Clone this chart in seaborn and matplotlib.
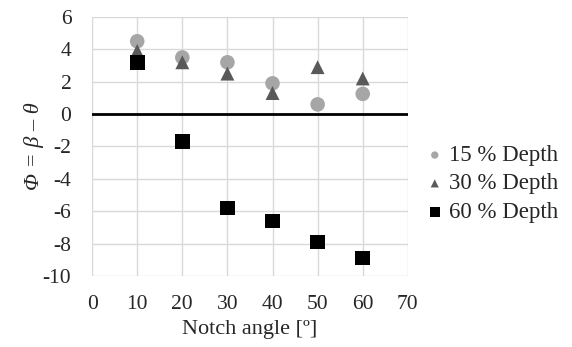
import pandas as pd
import seaborn as sns
import matplotlib.pyplot as plt

angles = [10, 20, 30, 40, 50, 60]
depth15 = [4.5, 3.5, 3.2, 1.9, 0.6, 1.25]
depth30 = [3.9, 3.2, 2.5, 1.3, 2.9, 2.2]
depth60 = [3.2, -1.7, -5.8, -6.6, -7.9, -8.9]
series = ["15 % Depth", "30 % Depth", "60 % Depth"]

df = pd.DataFrame({
    "angle": angles * 3,
    "phi": depth15 + depth30 + depth60,
    "series": [s for s in series for _ in angles],
})

sns.set_style("white")
plt.rcParams["font.family"] = ["Liberation Serif", "DejaVu Serif"]
plt.rcParams["axes.unicode_minus"] = False

fig = plt.figure(figsize=(5.72, 3.47), dpi=100)
ax = fig.add_axes([0.161, 0.205, 0.552, 0.746])

styles = {
    "15 % Depth": dict(marker="o", color="#a6a6a6", s=110),
    "30 % Depth": dict(marker="^", color="#595959", s=100),
    "60 % Depth": dict(marker="s", color="#000000", s=112),
}
for name in series:
    st = styles[name]
    sns.scatterplot(data=df[df["series"] == name], x="angle", y="phi", ax=ax,
                    marker=st["marker"], color=st["color"], s=st["s"],
                    edgecolor="none", linewidth=0, label=name, zorder=3)

ax.axhline(0, color="black", lw=2, zorder=2)
ax.set_xlim(0, 70)
ax.set_ylim(-10, 6)
ax.set_xticks(range(0, 71, 10))
ax.set_yticks(range(-10, 7, 2))
ax.grid(True, color="#d9d9d9", lw=1)
for sp in ax.spines.values():
    sp.set_visible(False)
ax.tick_params(axis="both", length=0, labelsize=15.5)
ax.tick_params(axis="x", pad=14)
ax.tick_params(axis="y", pad=15)
ax.set_xlabel("Notch angle [º]", fontsize=16)
ax.set_ylabel("Φ = β – θ", fontsize=16, style="italic", labelpad=-1)

ax.legend_.remove()
handles, labels = ax.get_legend_handles_labels()
leg = fig.legend(handles, labels, loc="center left", bbox_to_anchor=(0.72, 0.47),
                 frameon=False, fontsize=16.5, handletextpad=0.0, labelspacing=0.32,
                 borderaxespad=0, handlelength=1.2)
for h, sz in zip(leg.legend_handles, [28, 34, 52]):
    h.set_sizes([sz])

fig.savefig("out.png", dpi=100)
